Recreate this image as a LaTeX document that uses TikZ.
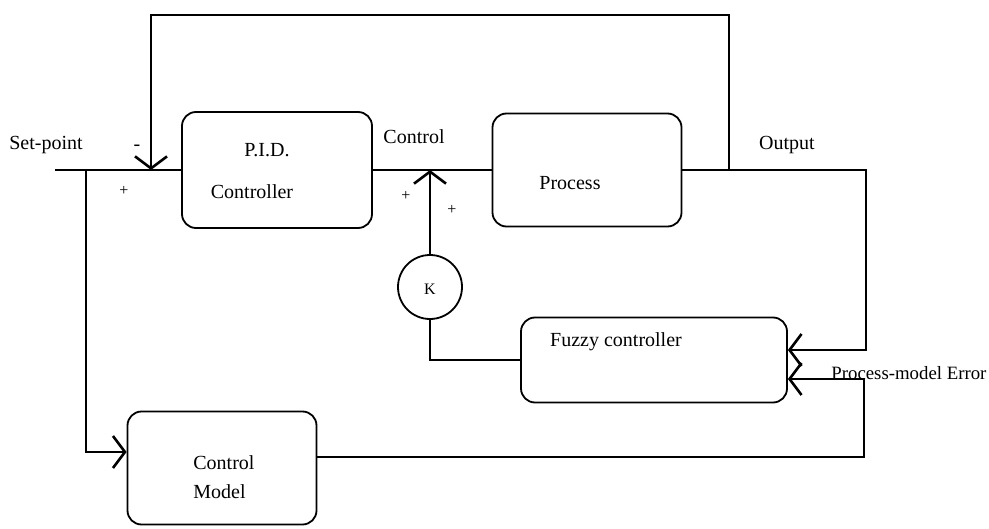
\documentclass[tikz,border=0pt]{standalone}
\usepackage{fontspec}
\setmainfont{Liberation Serif}
\usetikzlibrary{arrows.meta,calc}

\begin{document}
\begin{tikzpicture}[x=0.5pt,y=-0.5pt,
  block/.style = {draw, rounded corners=7pt, line width=0.9pt, inner sep=0pt},
  txt/.style = {font=\fontsize{10}{12}\selectfont, inner sep=0pt},
  sgn/.style = {font=\fontsize{8}{10}\selectfont, inner sep=0pt},
  sig/.style = {line width=0.9pt},
  >={Straight Barb[length=6pt,width=16pt,line width=1.3pt]}]
  \useasboundingbox (0,0) rectangle (989,529);
  \node[block, minimum width=95pt, minimum height=58pt] (pid) at (277,170) {};
  \node[block, minimum width=94.5pt, minimum height=56.5pt] (proc) at (587,170) {};
  \node[block, minimum width=133pt, minimum height=42.5pt] (fz) at (654,360) {};
  \node[block, minimum width=94.5pt, minimum height=56.5pt] (cm) at (222,468) {};
  \node[draw, circle, line width=0.9pt, minimum size=32pt, inner sep=0pt] (k) at (430,287) {};
  % texts
  \node[txt] (lsp) at (46,145) {Set-point};
  \node[txt] (lminus) at (137,148) {-};
  \node[sgn] (lplus1) at (124,191) {+};
  \node[txt] (lpid) at (267,150) {P.I.D.};
  \node[txt] (lctrl) at (252,192) {Controller};
  \node[txt] (lcon) at (414,137) {Control};
  \node[sgn] (lplus2) at (406,196) {+};
  \node[sgn] (lplus3) at (452,210) {+};
  \node[txt] (lproc) at (570,183) {Process};
  \node[txt] (lout) at (787,145) {Output};
  \node[sgn] (lk) at (430,289) {K};
  \node[txt] (lfz) at (616,342) {Fuzzy controller};
  \node[txt, font=\fontsize{9.4}{11}\selectfont, anchor=west] (lerr) at (831,373) {Process-model Error};
  \node[txt, anchor=west] (lcm1) at (193,463) {Control};
  \node[txt, anchor=west] (lcm2) at (193,492) {Model};
  % junctions
  \coordinate (sp) at (55,170);
  \coordinate (br) at (86,170);
  \coordinate (sum1) at (151,170);
  \coordinate (sum2) at (430,170);
  \coordinate (tap) at (729,170);
  \coordinate (fin1) at ($(fz.east)+(0,-10)$);
  \coordinate (fin2) at ($(fz.east)+(0,19)$);
  \coordinate (cmout) at ($(cm.east)+(0,-11)$);
  \coordinate (cmin) at ($(cm.west)+(0,-16)$);
  % connectors
  \draw[sig] (sp) -- (pid.west);
  \draw[sig,->] (br) |- (cmin);
  \draw[sig,->] (tap) -- (729,15) -| (sum1);
  \draw[sig] (pid.east) -- (proc.west);
  \draw[sig,->] (k.north) -- (sum2);
  \draw[sig] (k.south) |- (fz.west);
  \draw[sig,->] (proc.east) -| (866,350) -- (fin1);
  \draw[sig,->] (cmout) -| (864,379) -- (fin2);
\end{tikzpicture}
\end{document}
